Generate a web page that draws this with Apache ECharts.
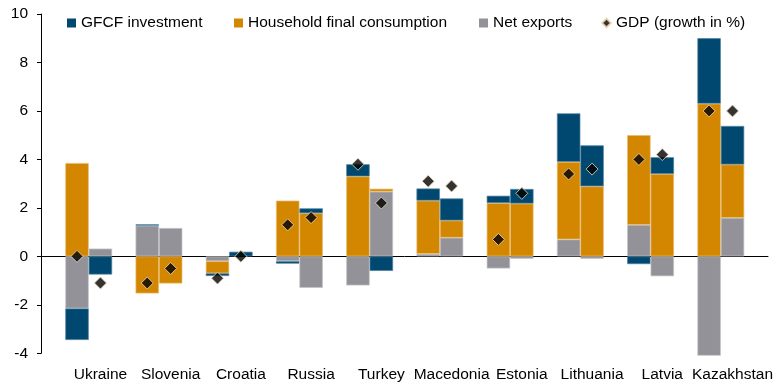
<!DOCTYPE html>
<html>
<head>
<meta charset="utf-8">
<title>GDP growth decomposition</title>
<script src="https://cdn.jsdelivr.net/npm/echarts@6/dist/echarts.min.js"></script>
<style>
  html, body { margin: 0; padding: 0; background: #fff; }
  #chart { width: 776px; height: 385px; }
</style>
</head>
<body>
<div id="chart"></div>
<script>
// Countries on the category axis
const categories = ['Ukraine', 'Slovenia', 'Croatia', 'Russia', 'Turkey',
                    'Macedonia', 'Estonia', 'Lithuania', 'Latvia', 'Kazakhstan'];

// First bar of each pair (contributions, percentage points)
const gfcfA       = [-1.3, 0.05, -0.11, -0.1, 0.5, 0.5, 0.3, 2.0, -0.32, 2.7];
const householdA  = [3.85, -1.53, -0.5, 2.3, 3.3, 2.2, 2.2, 3.2, 3.7, 6.3];
const netExportsA = [-2.15, 1.27, -0.2, -0.2, -1.2, 0.1, -0.5, 0.7, 1.3, -4.1];
const gdpA        = [0.0, -1.1, -0.9, 1.3, 3.8, 3.1, 0.7, 3.4, 4.0, 6.0];

// Second bar of each pair
const gfcfB       = [-0.75, 0, 0.19, 0.2, -0.6, 0.91, 0.6, 1.69, 0.69, 1.59];
const householdB  = [0, -1.12, 0, 1.78, 0.12, 0.71, 2.18, 2.89, 3.4, 2.2];
const netExportsB = [0.32, 1.17, 0, -1.3, 2.67, 0.77, -0.1, -0.1, -0.82, 1.59];
const gdpB        = [-1.1, -0.5, 0.0, 1.6, 2.2, 2.9, 2.6, 3.6, 4.2, 6.0];

// Value axis ticks
const yMin = -4, yMax = 10, yStep = 2;

const NAME_GFCF = 'GFCF investment';
const NAME_HH = 'Household final consumption';
const NAME_NX = 'Net exports';
const NAME_GDP = 'GDP (growth in %)';

const COLOR_GFCF = '#00486F';
const COLOR_HH = '#D38700';
const COLOR_NX = '#929298';

const FONT = '"Liberation Sans", Arial, sans-serif';
const FONT_SIZE = 15.5;
const BAR_W = 23.4;

// zero contributions are left empty so no hairline segment is drawn
const toBars = arr => arr.map(v => (v === 0 ? '-' : v));

function barSeries(name, values, stack, color, border) {
  return {
    name: name,
    type: 'bar',
    stack: stack,
    data: toBars(values),
    barWidth: BAR_W,
    barGap: '0%',
    clip: false,
    itemStyle: { color: color, borderColor: border, borderWidth: 0.7 },
    emphasis: { disabled: true },
    xAxisIndex: 0, yAxisIndex: 0,
    z: 2
  };
}

function gdpSeries(values, shift) {
  return {
    name: NAME_GDP,
    type: 'scatter',
    data: values,
    symbol: 'diamond',
    symbolSize: 12,
    symbolOffset: [shift, 0],
    itemStyle: { color: '#000', borderColor: '#F3DDB5', borderWidth: 1 },
    emphasis: { disabled: true },
    xAxisIndex: 0, yAxisIndex: 0,
    z: 5
  };
}

function legendAt(name, left, extra) {
  return Object.assign({
    data: [name],
    left: left,
    top: 10,
    itemWidth: 9,
    itemHeight: 9,
    itemGap: 0,
    selectedMode: false,
    textStyle: { fontFamily: FONT, fontSize: FONT_SIZE, color: '#000' }
  }, extra || {});
}

const chart = echarts.init(document.getElementById('chart'), null, { renderer: 'canvas' });

chart.setOption({
  animation: false,
  backgroundColor: '#fff',
  legend: [
    legendAt(NAME_GFCF, 62, { icon: 'rect', itemStyle: { borderWidth: 0 } }),
    legendAt(NAME_HH, 229, { icon: 'rect', itemStyle: { borderWidth: 0 } }),
    legendAt(NAME_NX, 474, { icon: 'rect', itemStyle: { borderWidth: 0 } }),
    legendAt(NAME_GDP, 596, { itemWidth: 9, itemHeight: 9 })
  ],
  grid: [
    // bars and diamonds
    { left: 53.6, right: 19.8, top: 14, bottom: 31.7, containLabel: false },
    // full-width baseline at zero
    { left: 41, right: 8, top: 14, bottom: 31.7, containLabel: false }
  ],
  xAxis: [
    {
      type: 'category',
      gridIndex: 0,
      data: categories,
      axisLine: { show: false, onZero: false },
      axisTick: { show: false },
      axisLabel: {
        fontFamily: FONT, fontSize: FONT_SIZE, color: '#000',
        margin: 13, padding: [0, 0, 0, BAR_W],
        interval: 0
      },
      splitLine: { show: false }
    },
    {
      type: 'value',
      gridIndex: 1,
      min: 0, max: 1,
      axisLine: { show: true, onZero: true, lineStyle: { color: '#000', width: 1 } },
      axisTick: { show: false },
      axisLabel: { show: false },
      splitLine: { show: false }
    }
  ],
  yAxis: [
    {
      type: 'value',
      gridIndex: 0,
      min: yMin, max: yMax, interval: yStep,
      offset: 12.6,
      axisLine: { show: true, lineStyle: { color: '#000', width: 1 } },
      axisTick: { show: true, length: 4, lineStyle: { color: '#000' } },
      axisLabel: { fontFamily: FONT, fontSize: FONT_SIZE, color: '#000', margin: 13 },
      splitLine: { show: false }
    },
    {
      type: 'value',
      gridIndex: 1,
      min: yMin, max: yMax, interval: yStep,
      axisLine: { show: false },
      axisTick: { show: false },
      axisLabel: { show: false },
      splitLine: { show: false }
    }
  ],
  series: [
    barSeries(NAME_NX, netExportsA, 'first', COLOR_NX, '#C4C4C8'),
    barSeries(NAME_HH, householdA, 'first', COLOR_HH, '#E8BC70'),
    barSeries(NAME_GFCF, gfcfA, 'first', COLOR_GFCF, '#4F83A0'),
    barSeries(NAME_NX, netExportsB, 'second', COLOR_NX, '#C4C4C8'),
    barSeries(NAME_HH, householdB, 'second', COLOR_HH, '#E8BC70'),
    barSeries(NAME_GFCF, gfcfB, 'second', COLOR_GFCF, '#4F83A0'),
    gdpSeries(gdpA, -BAR_W / 2),
    gdpSeries(gdpB, BAR_W / 2)
  ]
});
</script>
</body>
</html>
